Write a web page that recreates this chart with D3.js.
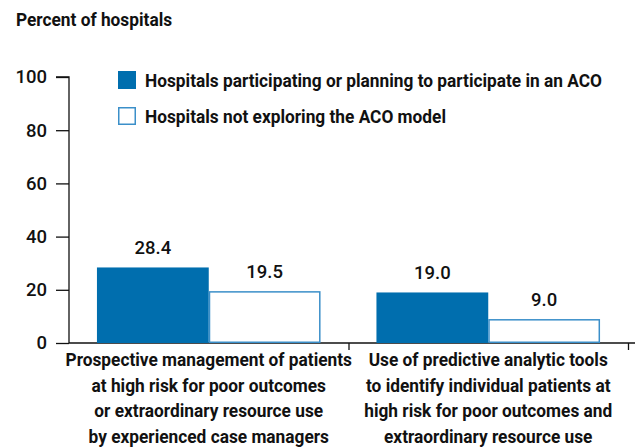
<!DOCTYPE html>
<html>
<head>
<meta charset="utf-8">
<script src="https://cdn.jsdelivr.net/npm/d3@7"></script>
<style>
  body { margin: 0; background: #fff; }
  svg { display: block; font-family: Roboto, "Liberation Sans", sans-serif; }
</style>
</head>
<body>
<div id="chart"></div>
<script>
// data
const categories = [
  ["Prospective management of patients", "at high risk for poor outcomes", "or extraordinary resource use", "by experienced case managers"],
  ["Use of predictive analytic tools", "to identify individual patients at", "high risk for poor outcomes and", "extraordinary resource use"]
];
const seriesNames = [
  "Hospitals participating or planning to participate in an ACO",
  "Hospitals not exploring the ACO model"
];
const aco = [28.4, 19.0];
const nonAco = [19.5, 9.0];
const yTicks = [0, 20, 40, 60, 80, 100];

const width = 635, height = 448;
const margin = {top: 77, right: 7, bottom: 105, left: 69};
const blue = "#006eae", lightBlue = "#3b8fc9", ink = "#111";
const squeeze = 0.91; // no condensed font installed, so narrow the words by hand
const fontSize = 19;

const svg = d3.select("#chart").append("svg")
  .attr("width", width).attr("height", height);

// text placed in a squeezed group
function word(parent, x, y, txt, anchor) {
  parent.append("g")
    .attr("transform", `translate(${x},${y}) scale(${squeeze},1)`)
    .append("text")
    .attr("text-anchor", anchor || "start")
    .attr("font-size", fontSize).attr("font-weight", 700).attr("fill", ink)
    .text(txt);
}

const catIdx = categories.map((d, i) => i);
const x0 = d3.scaleBand().domain(catIdx)
  .range([margin.left, width - margin.right]);
const x1 = d3.scaleBand().domain([0, 1])
  .range([0, x0.bandwidth()]).paddingOuter(0.25);
const y = d3.scaleLinear().domain([0, 100]).range([height - margin.bottom, margin.top]);

// title
word(svg, 16, 26, "Percent of hospitals");

// y axis
const yAxis = svg.append("g")
  .attr("transform", `translate(${margin.left},0)`)
  .call(d3.axisLeft(y).tickValues(yTicks).tickSize(13).tickPadding(9));
yAxis.select(".domain").attr("stroke", ink).attr("stroke-width", 1.3)
  .attr("d", `M-13,${y(100)}H0V${y(0)}`);
yAxis.selectAll(".tick line").attr("stroke", ink).attr("stroke-width", 1.3);
yAxis.selectAll(".tick text")
  .attr("font-size", 18.5).attr("font-weight", 500).attr("fill", ink)
  .attr("font-family", "Roboto, sans-serif");

// x axis, ticks at the right edge of each category band
const bounds = catIdx.map(i => x0(i) + x0.bandwidth());
const xAxis = svg.append("g")
  .attr("transform", `translate(0,${y(0)})`)
  .call(d3.axisBottom(d3.scaleLinear().domain([0, width]).range([0, width]))
    .tickValues(bounds).tickSize(7).tickFormat(""));
xAxis.select(".domain").attr("stroke", ink).attr("stroke-width", 1.3)
  .attr("d", `M${margin.left},0H${width}`);
xAxis.selectAll(".tick line").attr("stroke", ink).attr("stroke-width", 1.3);

// bars
const groups = svg.append("g").selectAll("g")
  .data(catIdx).join("g")
  .attr("transform", i => `translate(${x0(i)},0)`);

const barData = i => [{s: 0, v: aco[i]}, {s: 1, v: nonAco[i]}];

groups.selectAll("rect")
  .data(barData).join("rect")
  .attr("x", d => x1(d.s) + (d.s ? 0.75 : 0))
  .attr("y", d => y(d.v) + (d.s ? 0.75 : 0))
  .attr("width", d => x1.bandwidth() - (d.s ? 1.5 : 0))
  .attr("height", d => y(0) - y(d.v) - (d.s ? 1.5 : 0))
  .attr("fill", d => d.s ? "#fff" : blue)
  .attr("stroke", d => d.s ? lightBlue : "none")
  .attr("stroke-width", 1.5);

groups.selectAll("text.val")
  .data(barData).join("text")
  .attr("class", "val")
  .attr("x", d => x1(d.s) + x1.bandwidth() / 2)
  .attr("y", d => y(d.v) - 13)
  .attr("text-anchor", "middle")
  .attr("font-size", 18.5).attr("font-weight", 500).attr("fill", ink)
  .text(d => d.v.toFixed(1));

// category labels
const labels = svg.append("g");
catIdx.forEach(i => {
  const cx = x0(i) + x0.bandwidth() / 2;
  categories[i].forEach((line, j) => word(labels, cx, y(0) + 23 + j * 25.7, line, "middle"));
});

// legend
const legend = svg.append("g").attr("transform", "translate(118,71)");
seriesNames.forEach((name, i) => {
  const row = legend.append("g").attr("transform", `translate(0,${i * 36})`);
  row.append("rect")
    .attr("x", i ? 0.75 : 0).attr("y", i ? 0.75 : 0)
    .attr("width", i ? 16.5 : 18).attr("height", i ? 16.5 : 18)
    .attr("fill", i ? "#fff" : blue)
    .attr("stroke", i ? lightBlue : "none")
    .attr("stroke-width", 1.5);
  word(row, 27, 15.5, name);
});
</script>
</body>
</html>
